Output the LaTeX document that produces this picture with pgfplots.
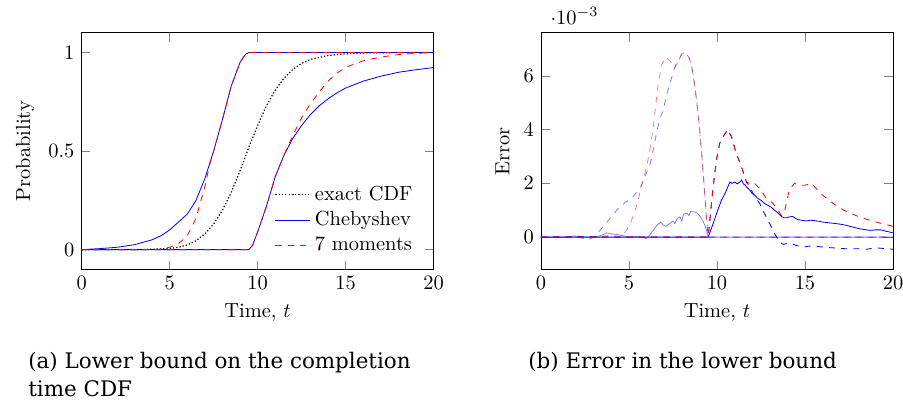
\documentclass[border=0pt]{standalone}
\usepackage{fontspec}
\usepackage{pgfplots}
\pgfplotsset{compat=1.18}
\newfontfamily\capfont{DejaVu Serif}
\begin{document}
\begin{tikzpicture}
\useasboundingbox (0,0) rectangle (442.5pt,197pt);
\pgfplotsset{every axis/.append style={scale only axis, width=172.5pt, height=115.9pt,
  xmin=0, xmax=20, xtick={0,5,10,15,20}, xlabel={Time, $t$}, anchor=south west}}
% ---------------- (a) ----------------
\begin{axis}[at={(40.0pt,65.0pt)}, ymin=-0.1, ymax=1.1, ytick={0,0.5,1},
  ylabel={Probability},
  legend pos=south east, legend style={draw=none, fill=none},
  legend cell align=left]
\addplot[black, densely dotted, semithick] coordinates {(0,0)(3,0.0005)(4,0.002)(5,0.006)(5.5,0.012)(6,0.024)(6.5,0.045)(7,0.08)(7.5,0.13)(8,0.2)(8.5,0.29)(9,0.4)(9.5,0.52)(10,0.63)(10.5,0.73)(11,0.81)(11.5,0.87)(12,0.915)(12.5,0.945)(13,0.965)(14,0.985)(15,0.994)(16,0.998)(18,1)(20,1)};
\addlegendentry{exact CDF}
\addplot[blue] coordinates {(0,0)(9.5,0)(9.7,0.02)(10,0.09)(10.5,0.22)(11,0.37)(11.5,0.48)(12,0.565)(12.5,0.63)(13,0.685)(13.5,0.73)(14,0.765)(14.5,0.795)(15,0.82)(16,0.855)(17,0.88)(18,0.9)(19,0.913)(20,0.924)};
\addlegendentry{Chebyshev}
\addplot[red, dashed] coordinates {(0,0)(9.5,0)(9.7,0.02)(10,0.09)(10.5,0.22)(11,0.37)(11.5,0.48)(12,0.58)(12.5,0.67)(13,0.74)(13.5,0.8)(14,0.855)(14.5,0.895)(15,0.925)(16,0.958)(17,0.977)(18,0.99)(19,0.996)(20,1)};
\addlegendentry{7 moments}
\addplot[blue, forget plot] coordinates {(0,0)(1,0.005)(2,0.012)(3,0.025)(4,0.05)(4.5,0.07)(5,0.1)(5.5,0.14)(6,0.18)(6.5,0.25)(7,0.36)(7.5,0.5)(8,0.66)(8.5,0.83)(9,0.95)(9.3,0.99)(9.5,1)(20,1)};
\addplot[red, dashed, forget plot] coordinates {(0,0)(4,0)(4.5,0.003)(5,0.012)(5.5,0.03)(6,0.07)(6.5,0.16)(7,0.32)(7.3,0.44)(7.5,0.5)(8,0.66)(8.5,0.83)(9,0.95)(9.3,0.99)(9.5,1)(20,1)};
\end{axis}
% ---------------- (b) ----------------
\begin{axis}[name=errax, at={(265.1pt,65.0pt)}, ymin=-1.2, ymax=7.6, ytick={0,2,4,6},
  ylabel={Error}]
\addplot[blue, dashed, opacity=0.5] coordinates {(0,0)(1.5,0)(2,0.03)(2.4,-0.05)(2.7,-0.1)(3.0,0)(3.35,0.25)(3.8,0.6)(4.3,1.0)(4.8,1.3)(5.24,1.5)(5.5,1.75)(5.7,1.9)(6.0,2.4)(6.19,2.7)(6.4,3.3)(6.57,3.9)(6.75,4.4)(6.94,4.7)(7.1,5.2)(7.32,5.7)(7.5,6.1)(7.7,6.5)(7.85,6.6)(7.98,6.8)(8.1,6.85)(8.27,6.8)(8.4,6.7)(8.55,6.4)(8.7,5.8)(8.84,5.1)(9.0,4.1)(9.12,3.2)(9.25,2.1)(9.4,0.75)(9.5,0)(20,0)};
\addplot[red, dashed, opacity=0.5] coordinates {(0,0)(3.5,0.03)(4.0,0.08)(4.48,0)(4.86,0.25)(5.1,0.55)(5.34,1.0)(5.5,1.3)(5.7,1.9)(6.0,2.6)(6.2,3.3)(6.38,4.1)(6.5,4.8)(6.66,5.7)(6.85,6.4)(7.0,6.6)(7.13,6.7)(7.25,6.6)(7.4,6.5)(7.55,6.3)(7.7,6.4)(7.85,6.6)(7.98,6.8)(8.1,6.85)(8.27,6.8)(8.4,6.7)(8.55,6.4)(8.7,5.8)(8.84,5.1)(9.0,4.1)(9.12,3.2)(9.25,2.1)(9.4,0.75)(9.5,0)(20,0)};
\addplot[blue, opacity=0.5] coordinates {(0,0)(1.5,0)(1.8,0.04)(2.2,0.03)(2.5,0)(3.2,0.02)(3.5,0.08)(3.73,0.16)(4.0,0.12)(4.3,0.1)(4.6,0.06)(5.05,0)(5.5,0.02)(5.8,-0.02)(6.0,-0.05)(6.2,0.1)(6.4,0.27)(6.6,0.45)(6.8,0.55)(6.95,0.45)(7.1,0.4)(7.3,0.5)(7.5,0.6)(7.6,0.5)(7.75,0.7)(7.9,0.75)(8.0,0.6)(8.1,0.85)(8.3,0.9)(8.4,0.8)(8.5,0.95)(8.7,0.94)(8.85,0.9)(9.0,0.81)(9.2,0.6)(9.35,0.37)(9.5,0)(20,0)};
\addplot[blue] coordinates {(0,0)(9.5,0)(9.78,0.5)(9.97,0.87)(10.1,1.1)(10.25,1.37)(10.4,1.55)(10.54,1.75)(10.73,2.05)(10.85,2.0)(11.0,2.05)(11.15,1.98)(11.3,2.05)(11.4,2.12)(11.5,1.98)(11.58,1.95)(11.7,1.85)(11.86,1.75)(12.0,1.62)(12.15,1.56)(12.3,1.45)(12.5,1.37)(12.7,1.25)(12.9,1.18)(13.1,1.1)(13.28,1.0)(13.5,0.88)(13.66,0.77)(13.8,0.72)(13.95,0.72)(14.1,0.75)(14.3,0.77)(14.45,0.7)(14.6,0.65)(14.8,0.63)(15.08,0.6)(15.3,0.63)(15.46,0.62)(15.7,0.6)(16.0,0.56)(16.4,0.53)(16.8,0.5)(17.2,0.46)(17.5,0.41)(17.8,0.36)(18.1,0.31)(18.4,0.28)(18.7,0.25)(19.0,0.27)(19.3,0.27)(19.6,0.22)(20,0.16)};
\addplot[blue, dashed] coordinates {(0,0)(9.5,0)(9.78,1.87)(9.97,2.87)(10.16,3.5)(10.35,3.74)(10.6,4.0)(10.82,3.74)(11.1,3.1)(11.4,2.6)(11.67,2.05)(11.86,1.87)(12.15,1.5)(12.43,1.25)(12.7,0.87)(13.0,0.5)(13.28,0.12)(13.57,-0.19)(13.76,-0.27)(14.13,-0.22)(14.5,-0.31)(14.9,-0.37)(15.3,-0.33)(15.65,-0.34)(16.1,-0.38)(16.6,-0.4)(17.0,-0.42)(17.5,-0.44)(18.0,-0.43)(18.5,-0.45)(19.05,-0.4)(19.4,-0.42)(20,-0.45)};
\addplot[red, dashed] coordinates {(0,0)(9.5,0)(9.78,1.87)(9.97,2.87)(10.16,3.5)(10.35,3.74)(10.6,4.0)(10.82,3.74)(11.1,3.1)(11.4,2.6)(11.67,2.05)(11.86,2.0)(12.05,2.05)(12.24,1.93)(12.5,1.75)(12.8,1.43)(13.0,1.35)(13.19,1.25)(13.47,1.0)(13.66,0.8)(13.85,1.0)(14.1,1.75)(14.4,2.0)(14.7,1.93)(15.0,1.93)(15.36,2.0)(15.65,1.8)(16.0,1.56)(16.6,1.25)(17.2,1.0)(17.9,0.8)(18.7,0.62)(19.4,0.5)(20,0.4)};
\end{axis}
\node[anchor=south west, inner sep=0pt] at ([xshift=4.5pt,yshift=4pt]errax.north west) {$\cdot 10^{-3}$};
% captions
\node[anchor=base west, inner sep=0pt, font=\capfont\fontsize{10.5}{14.2}\selectfont] at (13.7pt,16.5pt) {(a) Lower bound on the completion};
\node[anchor=base west, inner sep=0pt, font=\capfont\fontsize{10.5}{14.2}\selectfont] at (13.7pt,2.5pt) {time CDF};
\node[anchor=base west, inner sep=0pt, font=\capfont\fontsize{10.5}{14.2}\selectfont] at (258.7pt,16.5pt) {(b) Error in the lower bound};
\end{tikzpicture}
\end{document}
